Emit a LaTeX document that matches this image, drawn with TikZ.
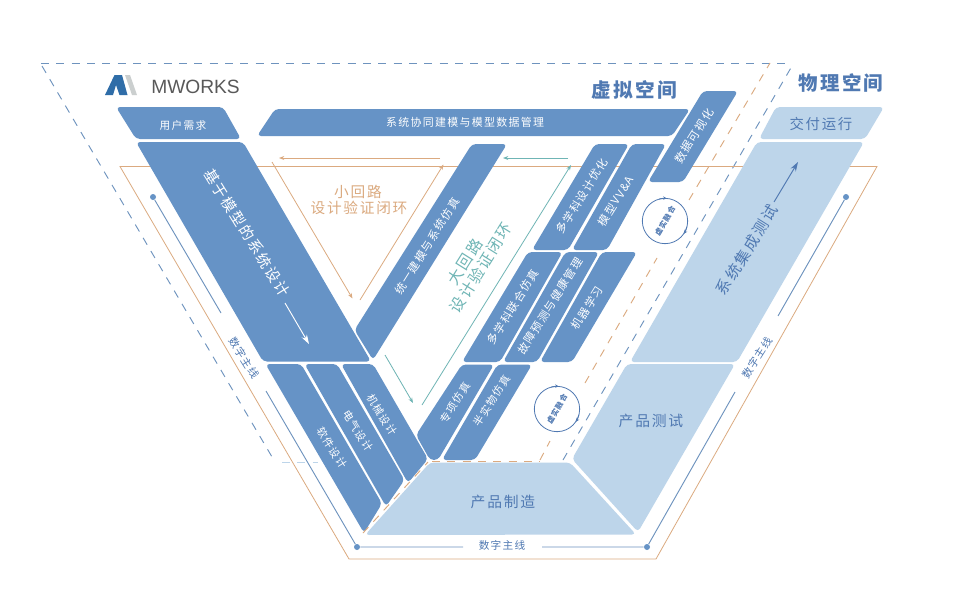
\documentclass[tikz,border=0pt]{standalone}
\usepackage{fontspec}
\setmainfont[LetterSpace=12]{Noto Sans CJK SC}
\newfontfamily\latinf{Liberation Sans}
\usetikzlibrary{arrows.meta}
\definecolor{blk}{HTML}{6693C6}
\definecolor{lgt}{HTML}{BDD5EA}
\definecolor{ink}{HTML}{5079B2}
\definecolor{org}{HTML}{DBAA80}
\definecolor{teal2}{HTML}{6FB5B5}
\definecolor{dsh}{HTML}{6E93BE}
\definecolor{logoblue}{HTML}{2F6DA8}
\definecolor{logogray}{HTML}{CBCFCF}
\tikzset{
  blueblk/.style={fill=blk,rounded corners=3pt},
  lightblk/.style={fill=lgt,rounded corners=3pt},
  wt/.style={text=white,font=\fontsize{#1}{#1}\selectfont,inner sep=0pt},
  bt/.style={text=ink,font=\fontsize{#1}{#1}\selectfont,inner sep=0pt},
  ot/.style={text=org,font=\fontsize{11}{13}\selectfont,inner sep=0pt},
  tt/.style={text=teal2,font=\fontsize{11.6}{14}\selectfont,inner sep=0pt},
  bluedash/.style={draw=dsh,line width=.7pt,dash pattern=on 6pt off 5.5pt},
  orgdash/.style={draw=org,line width=.7pt,dash pattern=on 6pt off 5.5pt},
  orgline/.style={draw=org,line width=.6pt},
  orgarrow/.style={orgline,-{Stealth[length=4pt,width=3pt]}},
  tealarrow/.style={draw=teal2,line width=.6pt,-{Stealth[length=4pt,width=3pt]}},
  thread/.style={draw=dsh,line width=.7pt},
  threaddot/.style={circle,fill=blk,inner sep=0pt,minimum size=4.5pt},
  fusion/.style={circle,draw=ink,line width=.6pt,minimum size=34pt,inner sep=0pt},
  fusiontxt/.style={text=ink,font=\fontsize{5.6}{7}\selectfont\bfseries,inner sep=0pt,rotate=60},
  fusiontip/.style={draw=ink,line width=.6pt,-{Stealth[length=3pt,width=2.5pt]}},
  blockarrow/.style={line width=.7pt,-{Stealth[length=7pt,width=4.5pt]}},
}
\begin{document}
\begin{tikzpicture}[x=.75pt,y=-.75pt]
\useasboundingbox (0,0) rectangle (960,600);
\fill[white] (0,0) rectangle (960,600);

% virtual / physical space dashed frames
\coordinate (tl) at (41,63.5);
\coordinate (tr) at (792,63.5);
\coordinate (ld) at (42,66);
\coordinate (lb) at (275,462);
\coordinate (p1) at (282,462);
\coordinate (p2) at (318,462);
\coordinate (rb) at (563,460);
\coordinate (rt) at (792,66);
\draw[bluedash] (tl) -- (tr);
\draw[bluedash] (ld) -- (lb);
\draw[draw=lgt,line width=.7pt,dash pattern=on 6pt off 5.5pt] (p1) -- (p2);
\draw[bluedash] (rb) -- (rt);
\coordinate (o1) at (540,460);
\coordinate (o2) at (550,441);
\coordinate (o3) at (585,383);
\coordinate (o4) at (657,258);
\coordinate (o5) at (689,200);
\coordinate (o6) at (770,63);
\draw[orgdash] (o1) -- (o2);
\draw[orgdash] (o3) -- (o4);
\draw[orgdash] (o5) -- (o6);

% outer orange frame
\coordinate (fa) at (120,166.5);
\coordinate (fb) at (349,559);
\coordinate (fc) at (656,559);
\coordinate (fd) at (877,166.5);
\draw[orgline] (fa) -- (fb) -- (fc) -- (fd) -- cycle;

% digital thread
\node[threaddot] (d1) at (153,197) {};
\node[threaddot] (d3) at (357,547) {};
\node[threaddot] (d4) at (647,547) {};
\node[threaddot] (d5) at (846,197) {};
\coordinate (e1) at (221,313);
\coordinate (e2) at (266,391);
\coordinate (e3) at (463,547);
\coordinate (e4) at (542,547);
\coordinate (e5) at (735,392);
\coordinate (e6) at (778,316);
\draw[thread] (d1) -- (e1);
\draw[thread] (e2) -- (d3) -- (e3);
\draw[thread] (e4) -- (d4) -- (e5);
\draw[thread] (e6) -- (d5);
\node[bt=8,rotate=-58] (t1) at (244,358) {数字主线};
\node[bt=8,rotate=58] (t2) at (757,358) {数字主线};
\node[bt=8] (t3) at (502,545) {数字主线};

% small loop
\coordinate (s1) at (440,158);
\coordinate (s2) at (279,158);
\coordinate (s3) at (272,162);
\coordinate (s4) at (352.5,298.5);
\coordinate (s5) at (360,300);
\coordinate (s6) at (443.5,164.5);
\draw[orgarrow] (s1) -- (s2);
\draw[orgarrow] (s3) -- (s4);
\draw[orgarrow] (s5) -- (s6);
\node[ot] (x1) at (358,192) {小回路};
\node[ot] (x2) at (359,208) {设计验证闭环};

% large loop
\coordinate (b1) at (568,158);
\coordinate (b2) at (503,158);
\coordinate (b3) at (385,355);
\coordinate (b4) at (413,403);
\coordinate (b5) at (422,405);
\coordinate (b6) at (571,165);
\draw[tealarrow] (b1) -- (b2);
\draw[tealarrow] (b3) -- (b4);
\draw[tealarrow] (b5) -- (b6);
\node[tt,rotate=58] (x3) at (465,262) {大回路};
\node[tt,rotate=58] (x4) at (481,268) {设计验证闭环};

% left column
\path[blueblk] (116,107) -- (223,107) -- (241,139) -- (136,139) -- cycle;
\node[wt=8] (n1) at (183,125) {用户需求};
\path[blueblk] (136,142) -- (243,142) -- (371,361.5) -- (263,361.5) -- cycle;
\node[wt=11.1,rotate=-58] (n2) at (247,233) {基于模型的系统设计};
\coordinate (a1) at (285,303);
\coordinate (a2) at (309,344);
\draw[white,blockarrow] (a1) -- (a2);
\path[blueblk] (265.5,364) -- (301,364) -- (382,503.5) -- (364,533) -- cycle;
\node[wt=8,rotate=-58] (n3) at (332,448) {软件设计};
\path[blueblk] (304.5,364) -- (337,364) -- (404.5,480) -- (386,506.5) -- cycle;
\node[wt=8,rotate=-58] (n4) at (358,431) {电气设计};
\path[blueblk] (341,364) -- (373,364) -- (428,459) -- (408,483) -- cycle;
\node[wt=8,rotate=-58] (n5) at (382,415) {机械设计};

% centre blocks
\path[blueblk] (275,109) -- (690,109) -- (672,136) -- (257,136) -- cycle;
\node[wt=8.2] (n6) at (465,122) {系统协同建模与模型数据管理};
\path[blueblk] (472,144) -- (507,144) -- (373,360) -- (354.5,330) -- cycle;
\node[wt=8.4,rotate=58] (n7) at (427,246) {统一建模与系统仿真};
\path[blueblk] (703,91) -- (738,91) -- (683,182) -- (648,182) -- cycle;
\node[wt=8.5,rotate=58] (n8) at (694,136) {数据可视化};
\path[blueblk] (595,144) -- (629,144) -- (568,250) -- (532,250) -- cycle;
\node[wt=8.4,rotate=58] (n9) at (582,196) {多学科设计优化};
\path[blueblk] (632,144) -- (666,144) -- (607,250) -- (572,250) -- cycle;
\node[wt=8.4,rotate=58] (n10) at (616,201) {模型VV\&A};
\path[blueblk] (528,252) -- (562.5,252) -- (500,362) -- (462,362) -- cycle;
\node[wt=8.4,rotate=58] (n11) at (513,307) {多学科联合仿真};
\path[blueblk] (565.5,252) -- (599,252) -- (537,362) -- (503,362) -- cycle;
\node[wt=8.4,rotate=58] (n12) at (550,306) {故障预测与健康管理};
\path[blueblk] (602,252) -- (637,252) -- (572,362) -- (540,362) -- cycle;
\node[wt=8.4,rotate=58] (n13) at (587,308) {机器学习};
\path[blueblk] (462,364.5) -- (494,364.5) -- (438,460) -- (430,460) -- (416,435) -- cycle;
\node[wt=8,rotate=58] (n14) at (455,403) {专项仿真};
\path[blueblk] (497.5,364.5) -- (532,364.5) -- (475,460) -- (442,460) -- cycle;
\node[wt=8,rotate=58] (n15) at (492,401) {半实物仿真};

% physical blocks
\path[lightblk] (430,462.5) -- (570,462.5) -- (636,534.5) -- (365,535) -- cycle;
\node[bt=11.1] (n16) at (503,502) {产品制造};
\path[lightblk] (627,364) -- (735,364) -- (638,532) -- (572,459) -- cycle;
\node[bt=11.1] (n17) at (651,421) {产品测试};
\path[lightblk] (757,142) -- (864,142) -- (737,362) -- (630,362) -- cycle;
\node[bt=11.6,rotate=58] (n18) at (747,250) {系统集成测试};
\coordinate (a3) at (774,202);
\coordinate (a4) at (798,162);
\draw[ink,blockarrow] (a3) -- (a4);
\path[lightblk] (776,107) -- (884,107) -- (865,139) -- (759,139) -- cycle;
\node[bt=10.8] (n19) at (821,124) {交付运行};

% orange dashes along the manufacturing block
\coordinate (q1) at (432,461.5);
\coordinate (q2) at (540,461.5);
\coordinate (q3) at (363,533);
\coordinate (q4) at (428,462);
\draw[orgdash] (q1) -- (q2);
\draw[orgdash] (q3) -- (q4);

% twin fusion circles
\node[fusion] (c1) at (665,221) {};
\node[fusiontxt] (c1t) at (665,221) {虚实融合};
\node[fusion] (c2) at (557,409) {};
\node[fusiontxt] (c2t) at (557,409) {虚实融合};
\foreach \c in {c1,c2}{
  \draw[fusiontip] ([shift={(105:17pt)}]\c.center) arc[start angle=105,end angle=85,radius=17pt];
  \draw[fusiontip] ([shift={(-15:17pt)}]\c.center) arc[start angle=-15,end angle=-35,radius=17pt];
}

% titles
\node[text=ink,font=\fontsize{14.7}{16}\selectfont\bfseries,inner sep=0pt] (h1) at (634,90) {虚拟空间};
\node[text=ink,font=\fontsize{14.6}{16}\selectfont\bfseries,inner sep=0pt] (h2) at (841,83) {物理空间};

% logo
\fill[logogray] (125,75) -- (130,75) -- (137,95) -- (132,95) -- cycle;
\fill[logoblue] (105,95) -- (114.5,75) -- (122,75) -- (127.5,95) -- (119.5,95) -- (116,85) -- (113,95) -- cycle;
\node[text=black!65,font=\latinf\fontsize{14.4}{15}\selectfont,inner sep=0pt,anchor=west] (lg) at (151,86.5) {MWORKS};
\end{tikzpicture}
\end{document}
